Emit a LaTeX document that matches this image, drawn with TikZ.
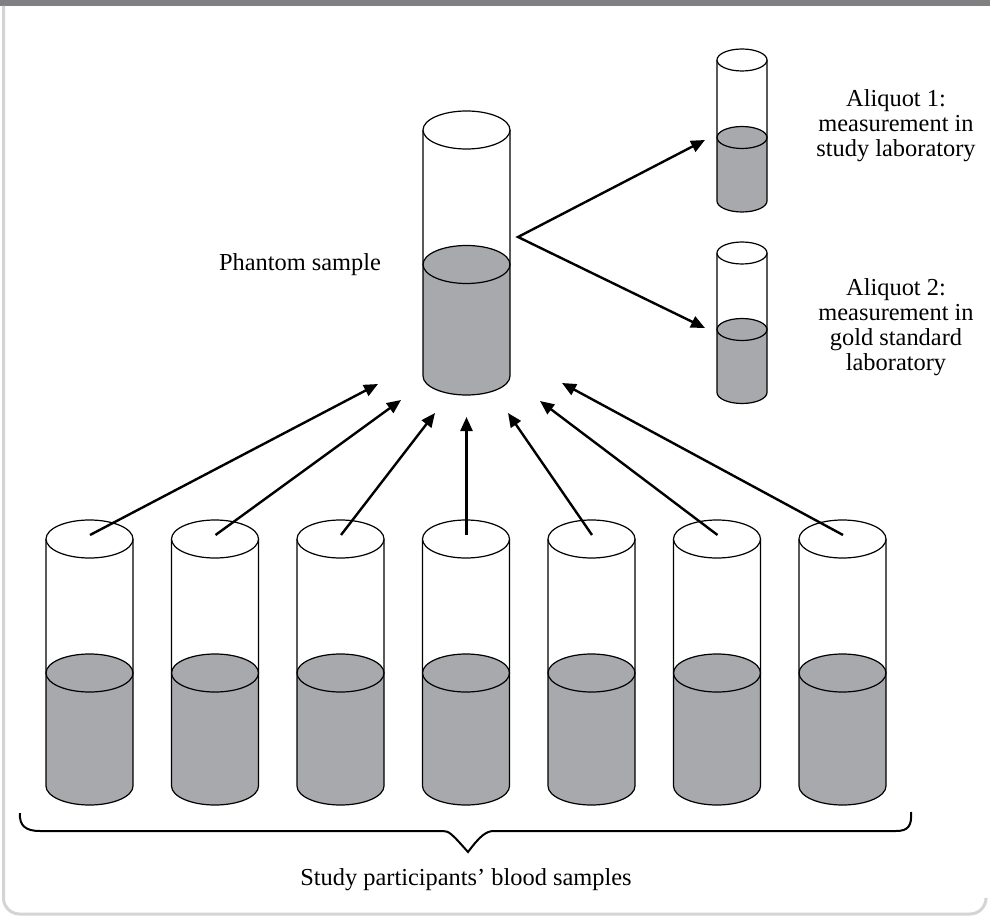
\documentclass[tikz,border=0pt]{standalone}
\usepackage{fontspec}
\setmainfont{Liberation Serif}
\usetikzlibrary{arrows.meta}

\definecolor{liquidgray}{RGB}{168,169,173}
\definecolor{bargray}{RGB}{128,128,131}
\definecolor{framegray}{RGB}{212,212,212}

\tikzset{
  glass/.style={draw=black, line width=0.6pt},
  liquid/.style={fill=liquidgray},
  tip/.tip={Triangle[length=7pt,width=6pt]},
  flow/.style={line width=1.2pt, -tip},
  split/.style={line width=1.2pt, tip-tip},
  tubetext/.style={font=\fontsize{12.2}{12.5}\selectfont, align=center, inner sep=0pt}
}

% sample tube: centre x, top, liquid level, bottom, x radius, y radius
\newcommand{\sampletube}[6]{%
  \fill[liquid] (#1-#5,#3) -- (#1-#5,#4) arc[start angle=180, end angle=360, x radius=#5, y radius=#6] -- (#1+#5,#3) -- cycle;
  \draw[glass, fill=liquidgray] (#1,#3) ellipse[x radius=#5, y radius=#6];
  \draw[glass] (#1-#5,#2) -- (#1-#5,#4) arc[start angle=180, end angle=360, x radius=#5, y radius=#6] -- (#1+#5,#2);
  \draw[glass, fill=white] (#1,#2) ellipse[x radius=#5, y radius=#6];
}

\begin{document}
\begin{tikzpicture}[x=0.5pt, y=0.5pt]
  \useasboundingbox (0,0) rectangle (990,-919);

  % frame
  \fill[bargray] (0,0) rectangle (990,-6);
  \draw[framegray, line width=1.5pt, rounded corners=8] (3.5,-6) -- (3.5,-914) -- (986,-914) -- (986,-900);

  % Phantom sample tube
  \sampletube{466.5}{-130}{-264.5}{-376}{43.5}{19}
  \node[tubetext] (phantom) at (300,-265) {Phantom sample};

  % Aliquots
  \sampletube{742}{-60}{-137.5}{-201}{25}{11}
  \sampletube{742}{-253}{-329.5}{-392.5}{25}{11}
  \node[tubetext] (aliquot1) at (896,-126) {Aliquot 1:\\measurement in\\study laboratory};
  \node[tubetext] (aliquot2) at (896,-327) {Aliquot 2:\\measurement in\\gold standard\\laboratory};

  \coordinate (fork) at (518,-237);
  \coordinate (al1) at (705,-140);
  \coordinate (al2) at (705,-328);
  \draw[split] (al1) -- (fork) -- (al2);

  % Participants' tubes
  \sampletube{89.5}{-539}{-673}{-786}{43.5}{19}
  \sampletube{215}{-539}{-673}{-786}{43.5}{19}
  \sampletube{340.5}{-539}{-673}{-786}{43.5}{19}
  \sampletube{466}{-539}{-673}{-786}{43.5}{19}
  \sampletube{591.5}{-539}{-673}{-786}{43.5}{19}
  \sampletube{717}{-539}{-673}{-786}{43.5}{19}
  \sampletube{842.5}{-539}{-673}{-786}{43.5}{19}

  \coordinate (s1) at (90,-535);
  \coordinate (s2) at (215.5,-535);
  \coordinate (s3) at (341,-535);
  \coordinate (s4) at (466.5,-535);
  \coordinate (s5) at (592,-535);
  \coordinate (s6) at (717.5,-535);
  \coordinate (s7) at (843,-535);

  \coordinate (e1) at (378,-384);
  \coordinate (e2) at (401,-400);
  \coordinate (e3) at (435,-413);
  \coordinate (e4) at (466.5,-417);
  \coordinate (e5) at (508,-413);
  \coordinate (e6) at (540,-401);
  \coordinate (e7) at (562,-383);

  \draw[flow] (s1) -- (e1);
  \draw[flow] (s2) -- (e2);
  \draw[flow] (s3) -- (e3);
  \draw[flow] (s4) -- (e4);
  \draw[flow] (s5) -- (e5);
  \draw[flow] (s6) -- (e6);
  \draw[flow] (s7) -- (e7);

  % brace under the tubes
  \draw[line width=1pt] (20,-813) .. controls (19,-826) and (26,-831) .. (40,-831)
    -- (443,-831) .. controls (449,-831) and (452,-834) .. (468,-852)
    .. controls (480,-836) and (486,-831) .. (494,-831)
    -- (896,-831) .. controls (908,-831) and (912,-826) .. (911,-812);
  \node[tubetext] (participants) at (466,-880) {Study participants' blood samples};
\end{tikzpicture}
\end{document}
